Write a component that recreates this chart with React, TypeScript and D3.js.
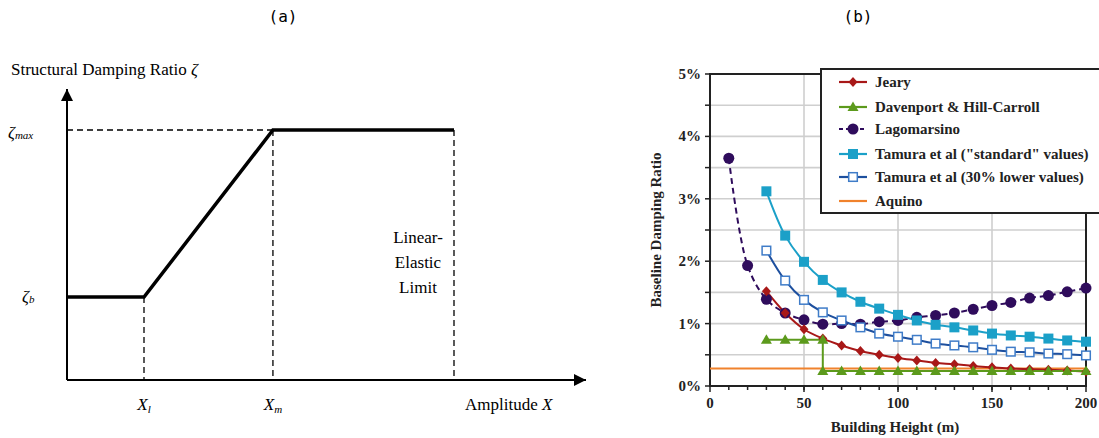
import React from "react";
import * as d3 from "d3";

// ---------- Panel (a) schematic ----------
const schematicX = [0, 1, 2.65, 4.98]; // origin, X_l, X_m, linear-elastic limit
const schematicY = [0, 1, 3]; // origin, zeta_b, zeta_max (relative)

// ---------- Panel (b) data ----------
const heights = [10, 20, 30, 40, 50, 60, 70, 80, 90, 100, 110, 120, 130, 140, 150, 160, 170, 180, 190, 200];
const jearyX = heights.slice(2);
const jearyY = [1.52, 1.17, 0.91, 0.76, 0.65, 0.56, 0.5, 0.45, 0.41, 0.37, 0.35, 0.32, 0.3, 0.28, 0.27, 0.26, 0.25, 0.23];
const davenportX = [30, 40, 50, 60, 60, 70, 80, 90, 100, 110, 120, 130, 140, 150, 160, 170, 180, 190, 200];
const davenportY = [0.74, 0.74, 0.74, 0.74, 0.24, 0.24, 0.24, 0.24, 0.24, 0.24, 0.24, 0.24, 0.24, 0.24, 0.24, 0.24, 0.24, 0.24, 0.24];
const lagoX = heights;
const lagoY = [3.65, 1.93, 1.39, 1.17, 1.06, 0.99, 1.0, 0.99, 1.03, 1.05, 1.1, 1.13, 1.17, 1.23, 1.29, 1.34, 1.41, 1.45, 1.51, 1.57];
const tamuraX = heights.slice(2);
const tamuraStdY = [3.12, 2.41, 1.99, 1.7, 1.5, 1.35, 1.24, 1.14, 1.05, 0.98, 0.94, 0.89, 0.84, 0.81, 0.79, 0.76, 0.73, 0.71];
const tamuraLowY = [2.17, 1.69, 1.38, 1.18, 1.05, 0.94, 0.84, 0.79, 0.74, 0.68, 0.65, 0.62, 0.58, 0.55, 0.54, 0.52, 0.51, 0.49];
const aquinoX = [0, 200];
const aquinoY = [0.28, 0.28];
const xTicks = [0, 50, 100, 150, 200];
const yTicks = [0, 1, 2, 3, 4, 5];
const legendLabels = [
  "Jeary",
  "Davenport & Hill-Carroll",
  "Lagomarsino",
  "Tamura et al (\"standard\" values)",
  "Tamura et al (30% lower values)",
  "Aquino",
];

const C = {
  jeary: "#a81818",
  dav: "#5c9a1c",
  lago: "#2f0c5c",
  tstd: "#1ba0c8",
  tlowLine: "#1d4f9e",
  tlowMark: "#3f7cc8",
  aquino: "#f0822c",
};

const serif = "'Liberation Serif', 'DejaVu Serif', serif";

function Marker({ type, x, y }: { type: string; x: number; y: number }) {
  if (type === "diamond")
    return <path d={`M${x},${y - 5}L${x + 4.5},${y}L${x},${y + 5}L${x - 4.5},${y}Z`} fill={C.jeary} />;
  if (type === "triangle")
    return <path d={`M${x},${y - 5.5}L${x + 5.5},${y + 4}L${x - 5.5},${y + 4}Z`} fill={C.dav} />;
  if (type === "circle") return <circle cx={x} cy={y} r={5.5} fill={C.lago} />;
  if (type === "square") return <rect x={x - 5} y={y - 5} width={10} height={10} fill={C.tstd} />;
  if (type === "open")
    return <rect x={x - 4.3} y={y - 4.3} width={8.6} height={8.6} fill="white" stroke={C.tlowMark} strokeWidth={1.5} />;
  return null;
}

export default function App() {
  // Panel (a)
  const ax = d3.scaleLinear().domain([0, 4.98]).range([67, 454]);
  const ay = d3.scaleLinear().domain([0, 3]).range([380, 130]);
  const yb = 297;
  const ymax = ay(schematicY[2]);
  const x0 = ax(schematicX[0]);
  const xl = ax(schematicX[1]) + (144 - ax(1));
  const xm = ax(schematicX[2]);
  const xe = ax(schematicX[3]);

  // Panel (b)
  const bx = d3.scaleLinear().domain([0, 200]).range([710, 1086]);
  const by = d3.scaleLinear().domain([0, 5]).range([386, 74]);
  const smooth = d3
    .line<[number, number]>()
    .x((d) => bx(d[0]))
    .y((d) => by(d[1]))
    .curve(d3.curveCatmullRom.alpha(0.5));
  const straight = d3
    .line<[number, number]>()
    .x((d) => bx(d[0]))
    .y((d) => by(d[1]));
  const zip = (xs: number[], ys: number[]) => xs.map((x, i) => [x, ys[i]] as [number, number]);

  const jeary = zip(jearyX, jearyY);
  const dav = zip(davenportX, davenportY);
  const lago = zip(lagoX, lagoY);
  const tstd = zip(tamuraX, tamuraStdY);
  const tlow = zip(tamuraX, tamuraLowY);
  const aq = zip(aquinoX, aquinoY);

  const gridY = d3.range(0.5, 5.01, 0.5);
  const minorX = d3.range(10, 200, 10);

  const legendRows = [
    { label: legendLabels[0], color: C.jeary, marker: "diamond", dash: undefined },
    { label: legendLabels[1], color: C.dav, marker: "triangle", dash: undefined },
    { label: legendLabels[2], color: C.lago, marker: "circle", dash: "4,3" },
    { label: legendLabels[3], color: C.tstd, marker: "square", dash: undefined },
    { label: legendLabels[4], color: C.tlowLine, marker: "open", dash: undefined },
    { label: legendLabels[5], color: C.aquino, marker: "", dash: undefined },
  ];
  const legendYs = [82, 107, 129, 154, 177, 201];

  return (
    <svg width={1099} height={438} style={{ position: "absolute", left: 0, top: 0, background: "white" }}>
      <defs>
        <marker id="arrow" viewBox="0 0 10 10" refX={10} refY={5} markerWidth={6} markerHeight={6} markerUnits="strokeWidth" orient="auto">
          <path d="M0,0L10,5L0,10Z" fill="black" />
        </marker>
      </defs>
      {/* Titles */}
      <text x={283} y={22} textAnchor="middle" fontFamily="'DejaVu Sans Mono', monospace" fontSize={16}>
        (a)
      </text>
      <text x={858} y={22} textAnchor="middle" fontFamily="'DejaVu Sans Mono', monospace" fontSize={16}>
        (b)
      </text>

      {/* ---------- Panel (a) ---------- */}
      <g fontFamily={serif}>
        <text x={11} y={75} fontSize={17}>
          Structural Damping Ratio <tspan fontStyle="italic">ζ</tspan>
        </text>
        <line x1={x0} y1={ay(0)} x2={x0} y2={89} stroke="black" strokeWidth={2} markerEnd="url(#arrow)" />
        <line x1={x0} y1={ay(0)} x2={586} y2={ay(0)} stroke="black" strokeWidth={2} markerEnd="url(#arrow)" />
        {/* dashed guides */}
        <g stroke="black" strokeWidth={1.3} strokeDasharray="6,4" fill="none">
          <line x1={x0} y1={ymax} x2={xm} y2={ymax} />
          <line x1={xl} y1={yb} x2={xl} y2={ay(0)} />
          <line x1={xm} y1={ymax} x2={xm} y2={ay(0)} />
          <line x1={xe} y1={ymax} x2={xe} y2={ay(0)} />
        </g>
        <path
          d={`M${x0},${yb}L${xl},${yb}L${xm},${ymax}L${xe},${ymax}`}
          fill="none"
          stroke="black"
          strokeWidth={3.5}
        />
        <text x={8} y={138} fontSize={17} fontStyle="italic">
          ζ<tspan fontSize={11} dy={1}>max</tspan>
        </text>
        <text x={22} y={302} fontSize={17} fontStyle="italic">
          ζ<tspan fontSize={11} dy={1}>b</tspan>
        </text>
        <text x={xl} y={410} fontSize={17} fontStyle="italic" textAnchor="middle">
          X<tspan fontSize={11} dy={3}>l</tspan>
        </text>
        <text x={xm} y={410} fontSize={17} fontStyle="italic" textAnchor="middle">
          X<tspan fontSize={11} dy={3}>m</tspan>
        </text>
        <text x={465} y={410} fontSize={17}>
          Amplitude <tspan fontStyle="italic">X</tspan>
        </text>
        <g fontSize={17} textAnchor="middle">
          <text x={418} y={243}>Linear-</text>
          <text x={418} y={268}>Elastic</text>
          <text x={418} y={293}>Limit</text>
        </g>
      </g>

      {/* ---------- Panel (b) ---------- */}
      <g fontFamily={serif}>
        {/* grid */}
        <g stroke="#cfcfcf" strokeWidth={1.6}>
          {gridY.map((v) => (
            <line key={"gy" + v} x1={bx(0)} x2={bx(200)} y1={by(v)} y2={by(v)} />
          ))}
          {xTicks.slice(1, -1).map((v) => (
            <line key={"gx" + v} x1={bx(v)} x2={bx(v)} y1={by(0)} y2={by(5)} />
          ))}
        </g>
        {/* frame */}
        <rect x={bx(0)} y={by(5)} width={bx(200) - bx(0)} height={by(0) - by(5)} fill="none" stroke="#222" strokeWidth={2} />
        {/* ticks */}
        <g stroke="#222" strokeWidth={1.5}>
          {d3.range(0, 5.01, 0.5).map((v) => (
            <line key={"yt" + v} x1={bx(0) - 5} x2={bx(0)} y1={by(v)} y2={by(v)} />
          ))}
          {minorX.map((v) => (
            <line key={"xm" + v} x1={bx(v)} x2={bx(v)} y1={by(0)} y2={by(0) + 4} />
          ))}
          {xTicks.map((v) => (
            <line key={"xt" + v} x1={bx(v)} x2={bx(v)} y1={by(0)} y2={by(0) + 6} />
          ))}
        </g>
        <g fontSize={15} fontWeight="bold" fill="#222">
          {yTicks.map((v) => (
            <text key={"yl" + v} x={bx(0) - 9} y={by(v) + 5} textAnchor="end">
              {v}%
            </text>
          ))}
          {xTicks.map((v) => (
            <text key={"xl" + v} x={bx(v)} y={408} textAnchor="middle">
              {v}
            </text>
          ))}
          <text x={895} y={432} textAnchor="middle" fontSize={15}>
            Building Height (m)
          </text>
          <text transform={`translate(661,${by(2.5)}) rotate(-90)`} textAnchor="middle" fontSize={15}>
            Baseline Damping Ratio
          </text>
        </g>

        {/* series */}
        <path d={straight(aq) || ""} fill="none" stroke={C.aquino} strokeWidth={2} />
        <path d={smooth(lago) || ""} fill="none" stroke={C.lago} strokeWidth={2} strokeDasharray="6,4" />
        <path d={smooth(tstd) || ""} fill="none" stroke={C.tstd} strokeWidth={2} />
        <path d={smooth(tlow) || ""} fill="none" stroke={C.tlowLine} strokeWidth={2} />
        <path d={smooth(jeary) || ""} fill="none" stroke={C.jeary} strokeWidth={2} />
        <path d={straight(dav) || ""} fill="none" stroke={C.dav} strokeWidth={2} />
        {lago.map((d, i) => (
          <Marker key={"l" + i} type="circle" x={bx(d[0])} y={by(d[1])} />
        ))}
        {tstd.map((d, i) => (
          <Marker key={"s" + i} type="square" x={bx(d[0])} y={by(d[1])} />
        ))}
        {tlow.map((d, i) => (
          <Marker key={"o" + i} type="open" x={bx(d[0])} y={by(d[1])} />
        ))}
        {jeary.map((d, i) => (
          <Marker key={"j" + i} type="diamond" x={bx(d[0])} y={by(d[1])} />
        ))}
        {dav.map((d, i) => (
          <Marker key={"d" + i} type="triangle" x={bx(d[0])} y={by(d[1])} />
        ))}

        {/* legend */}
        <rect x={821} y={69} width={290} height={144} fill="white" stroke="#222" strokeWidth={2} />
        {legendRows.map((r, i) => (
          <g key={"lg" + i}>
            <line x1={839} x2={867} y1={legendYs[i]} y2={legendYs[i]} stroke={r.color} strokeWidth={2.2} strokeDasharray={r.dash} />
            {r.marker && <Marker type={r.marker} x={853} y={legendYs[i]} />}
            <text x={875} y={legendYs[i] + 5} fontSize={15} fontWeight="bold" fill="#222">
              {r.label}
            </text>
          </g>
        ))}
      </g>
    </svg>
  );
}
